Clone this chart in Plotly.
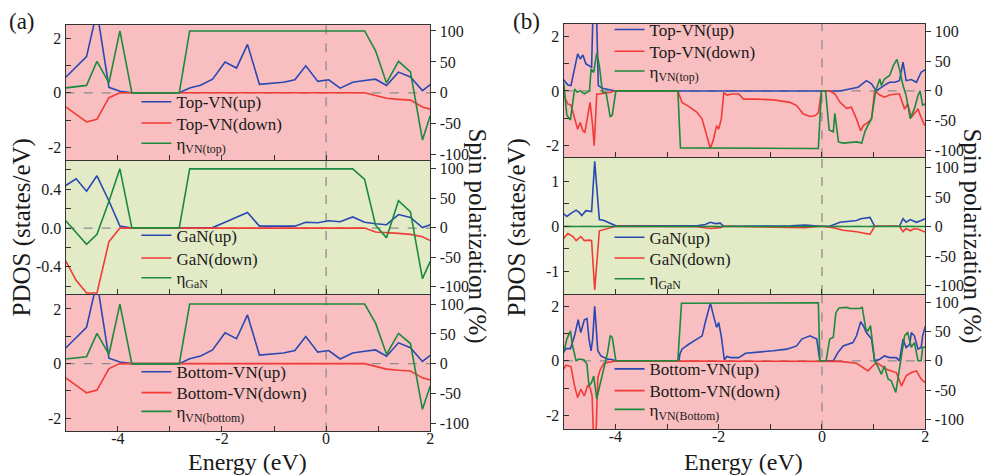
import plotly.graph_objects as go

# ---------------- data ----------------
# panel (a): coarse energy grid (eV)
E_a = [-5.0, -4.8, -4.6, -4.4, -4.17, -3.96, -3.73, -3.5, -3.27, -3.05, -2.82,
       -2.62, -2.41, -2.18, -1.94, -1.72, -1.51, -1.28, -1.05, -0.82, -0.60,
       -0.39, -0.16, 0.05, 0.27, 0.51, 0.74, 0.95, 1.16, 1.39, 1.62, 1.85, 2.0]

a_top_up = [0.57, 0.95, 1.33, 3.0, 0.2, 0.06, 0, 0, 0, 0, 0, 0.18, 0.28, 0.5, 1.13,
            0.91, 1.78, 0.31, 0.35, 0.39, 0.48, 0.99, 0.42, 0.48, 0.17, 0.39, 0.45,
            0.5, 0.27, 0.76, 0.58, 0.08, 0.3]
a_top_dn = [-0.52, -0.8, -1.07, -0.97, -0.18, 0, 0, 0, 0, 0, 0, 0, 0, 0, 0, 0, 0,
            0, 0, 0, 0, 0, 0, 0, 0, 0, 0, -0.1, -0.2, -0.24, -0.27, -0.52, -0.6]
a_top_eta = [8, 10, 12, 51, 16, 100, 0, 0, 0, 0, 0, 100, 100, 100, 100, 100, 100,
             100, 100, 100, 100, 100, 100, 100, 100, 100, 100, 68, 16, 51, 34, -76, -37]

a_gan_up = [0.44, 0.51, 0.38, 0.54, 0.28, 0.02, 0, 0, 0, 0, 0, 0, 0, 0.005, 0.06,
            0.11, 0.16, 0.02, 0.02, 0.02, 0.02, 0.06, 0.055, 0.075, 0.065, 0.115,
            0.06, 0.045, 0.035, 0.14, 0.11, 0.005, 0.035]
a_gan_dn = [-0.34, -0.54, -0.67, -0.67, -0.14, 0, 0, 0, 0, 0, 0, 0, 0, 0, 0, 0, 0,
            0, 0, 0, 0, 0, 0, 0, 0, 0, 0, -0.04, -0.045, -0.055, -0.065, -0.09, -0.13]
a_gan_eta = [12, -8, -28, -11, 45, 100, 0, 0, 0, 0, 0, 100, 100, 100, 100, 100, 100,
             100, 100, 100, 100, 100, 100, 100, 100, 100, 82, 4.5, -17, 46, 27, -86, -57]

# bottom VN of (a) reads identical to top VN
a_bot_up = [0.57, 0.95, 1.33, 3.0, 0.2, 0.06, 0, 0, 0, 0, 0, 0.18, 0.28, 0.5, 1.13,
            0.91, 1.78, 0.31, 0.35, 0.39, 0.48, 0.99, 0.42, 0.48, 0.17, 0.39, 0.45,
            0.5, 0.27, 0.76, 0.58, 0.08, 0.3]
a_bot_dn = [-0.52, -0.8, -1.07, -0.97, -0.18, 0, 0, 0, 0, 0, 0, 0, 0, 0, 0, 0, 0,
            0, 0, 0, 0, 0, 0, 0, 0, 0, 0, -0.1, -0.2, -0.24, -0.27, -0.52, -0.6]
a_bot_eta = [8, 10, 12, 51, 16, 100, 0, 0, 0, 0, 0, 100, 100, 100, 100, 100, 100,
             100, 100, 100, 100, 100, 100, 100, 100, 100, 100, 68, 16, 51, 34, -76, -37]

# panel (b): finer data, own energies per series
b_top_up_E = [-5.0, -4.92, -4.86, -4.79, -4.73, -4.68, -4.63, -4.57, -4.50, -4.46,
              -4.40, -4.33, -4.25, -4.15, -4.0, 0.35, 0.54, 0.70, 0.86, 0.96,
              1.05, 1.15, 1.25, 1.31, 1.41, 1.50, 1.57, 1.63, 1.73, 1.83, 1.92, 2.0]
b_top_up = [0.41, 0.22, 0.20, 0.81, 1.37, 1.18, 1.33, 1.00, 0.94, 0.88,
            5.5, 0.20, 0.10, 0.05, 0.0, 0.0, 0.07, 0.14, 0.38, 0.26,
            0.0, 0.14, 0.26, 0.32, 0.32, 0.38, 1.06, 0.38, 0.42, 0.32, 0.69, 0.79]

b_top_dn_E = [-5.0, -4.92, -4.86, -4.79, -4.73, -4.68, -4.63, -4.59, -4.54, -4.49,
              -4.44, -4.41, -4.36, -4.31, -4.18, -4.09, -4.02, -2.79, -2.71, -2.58,
              -2.42, -2.32, -2.22, -2.16, -2.10, -2.04, -2.00, -1.95, -1.90, -1.84,
              -1.74, -1.61, -1.52, -1.26, -0.94, -0.62, -0.49, -0.36, -0.23, -0.13,
              -0.07, -0.01, 0.15, 0.25, 0.35, 0.48, 0.57, 0.67, 0.75, 0.80,
              0.89, 0.96, 1.02, 1.12, 1.21, 1.31, 1.44, 1.50, 1.60, 1.66,
              1.73, 1.79, 1.86, 1.92, 1.99]
b_top_dn = [-0.15, -0.48, -0.52, -1.04, -1.41, -1.16, -1.47, -1.53, -1.04, -0.42,
            -1.28, -2.02, -0.11, -0.11, -0.07, -0.05, 0.0, 0.0, -0.42, -0.57,
            -0.79, -1.04, -1.72, -2.12, -1.78, -1.28, -1.41, -1.04, -0.07, -0.15,
            -0.11, -0.11, -0.30, -0.30, -0.33, -0.42, -0.54, -0.85, -0.94, -0.91,
            -0.81, 0.0, 0.0, -0.11, -0.42, -0.64, -0.60, -1.04, -1.47, -1.28,
            -1.16, -1.04, 0.0, -0.15, -0.23, -0.15, -0.11, -0.11, -0.67, -0.48,
            -0.98, -0.85, -0.67, -0.98, -1.28]

b_top_eta_E = [-5.0, -4.94, -4.87, -4.79, -4.74, -4.68, -4.60, -4.50, -4.47, -4.42,
               -4.36, -4.31, -4.25, -4.18, -4.10, -4.06, -3.99, -2.79, -2.74, -0.07,
               -0.01, 0.07, 0.14, 0.22, 0.25, 0.32, 0.41, 0.54, 0.67, 0.77,
               0.83, 0.89, 0.96, 1.04, 1.12, 1.15, 1.21, 1.31, 1.38, 1.45,
               1.50, 1.57, 1.63, 1.71, 1.79, 1.86, 1.90, 1.95, 2.0]
b_top_eta = [14, -41, -49, 3, -2, 0, -5, 0, 37, 31,
             64, 42, -2, -3, -44, -41, 0, 0, -96, -97,
             0, 0, -66, -69, -38, -86, -88, -87, -86, -88,
             -69, -58, -47, 0, 20, 9, 20, 26, 42, 53,
             37, 9, -8, -47, -30, -8, 0, -24, -22]

b_gan_up_E = [-5.0, -4.94, -4.86, -4.76, -4.70, -4.65, -4.57, -4.51, -4.46, -4.40,
              -4.31, -4.22, -3.99, -2.42, -2.26, -2.16, -2.06, -1.97, -1.90, -0.60,
              -0.33, -0.01, 0.15, 0.35, 0.54, 0.67, 0.75, 0.93, 1.02, 1.50,
              1.57, 1.63, 1.71, 1.83, 1.92, 2.0]
b_gan_up = [0.28, 0.22, 0.29, 0.36, 0.31, 0.24, 0.35, 0.34, 0.33, 1.45,
            0.15, 0.13, 0.01, 0.01, 0.04, 0.09, 0.06, 0.07, 0.0, 0.01,
            0.03, 0.0, 0.0, 0.09, 0.12, 0.13, 0.17, 0.20, 0.0, 0.0,
            0.17, 0.09, 0.15, 0.09, 0.13, 0.17]

b_gan_dn_E = [-5.0, -4.92, -4.82, -4.76, -4.67, -4.60, -4.51, -4.46, -4.40, -4.31,
              -3.99, -2.42, -2.16, -1.97, -1.90, -0.33, -0.01, 0.22, 0.41, 0.67,
              0.93, 1.02, 1.50, 1.57, 1.63, 1.71, 1.79, 1.88, 2.0]
b_gan_dn = [-0.27, -0.16, -0.23, -0.32, -0.23, -0.32, -0.31, -0.32, -1.42, -0.10,
            0.0, -0.01, -0.05, -0.03, 0.0, -0.03, 0.0, -0.03, -0.09, -0.12,
            -0.18, 0.0, 0.0, -0.12, -0.05, -0.10, -0.05, -0.07, -0.13]

b_gan_eta_E = [-5.0, -4.4, -2.0, 0.0, 1.0, 2.0]
b_gan_eta = [0, 0, 0, 0, 0, 0]

b_bot_up_E = [-5.0, -4.955, -4.87, -4.79, -4.72, -4.67, -4.60, -4.55, -4.51, -4.47,
              -4.44, -4.40, -4.34, -4.28, -4.15, -4.09, -3.99, -2.77, -2.75, -2.71,
              -2.58, -2.42, -2.32, -2.26, -2.16, -2.10, -2.04, -2.00, -1.95, -1.89,
              -1.84, -1.77, -1.61, -1.48, -1.26, -0.94, -0.68, -0.49, -0.39, -0.23,
              -0.10, -0.04, 0.22, 0.31, 0.41, 0.51, 0.60, 0.67, 0.75, 0.80,
              0.86, 0.96, 1.02, 1.12, 1.21, 1.31, 1.44, 1.50, 1.57, 1.63,
              1.70, 1.73, 1.79, 1.86, 1.92, 1.95, 2.0]
b_bot_up = [0.31, 0.45, 0.45, 0.92, 1.51, 1.04, 1.51, 1.56, 0.80, 0.37,
            0.80, 2.00, 0.37, 0.18, 0.06, 0.06, 0.0, 0.0, 0.25, 0.43,
            0.61, 0.80, 0.92, 1.41, 2.12, 1.66, 1.23, 1.41, 0.92, 0.04,
            0.16, 0.12, 0.12, 0.28, 0.31, 0.37, 0.43, 0.55, 0.80, 0.92,
            0.80, 0.0, 0.0, 0.31, 0.55, 0.61, 0.67, 0.92, 1.44, 1.29,
            1.04, 0.80, 0.0, 0.06, 0.18, 0.12, 0.12, 0.0, 0.80, 0.49,
            0.61, 1.04, 0.92, 0.43, 0.49, 0.92, 1.26]

b_bot_dn_E = [-5.0, -4.955, -4.86, -4.79, -4.73, -4.67, -4.60, -4.54, -4.49, -4.45,
              -4.42, -4.38, -4.34, -4.29, -4.22, -4.09, -3.99, 0.35, 0.67, 0.89,
              0.96, 1.05, 1.15, 1.25, 1.34, 1.44, 1.54, 1.63, 1.73, 1.83,
              1.92, 2.0]
b_bot_dn = [-0.30, -0.16, -0.21, -0.92, -1.35, -1.04, -1.29, -0.92, -0.98, -1.29,
            -3.0, -3.0, -0.61, -0.31, -0.09, -0.04, 0.0, -0.02, -0.09, -0.37,
            -0.25, -0.06, -0.18, -0.31, -0.37, -0.43, -0.92, -0.55, -0.43, -0.37,
            -0.67, -0.80]

b_bot_eta_E = [-5.0, -4.94, -4.87, -4.83, -4.76, -4.70, -4.61, -4.55, -4.51, -4.46,
               -4.42, -4.36, -4.31, -4.22, -4.15, -4.10, -4.06, -3.99, -2.79, -2.72,
               -0.07, -0.04, 0.08, 0.15, 0.22, 0.27, 0.33, 0.48, 0.54, 0.73,
               0.78, 0.85, 0.89, 0.94, 1.02, 1.09, 1.15, 1.21, 1.28, 1.34,
               1.43, 1.50, 1.60, 1.66, 1.73, 1.79, 1.86, 1.92, 1.95, 2.0]
b_bot_eta = [14, 37, 51, 26, 0, 3, 2, -6, -43, -37,
             -26, -65, -45, -9, 14, 43, 40, 0, 0, 98,
             99, 0, 0, 37, 40, 82, 90, 91, 89, 89,
             91, 54, 51, 60, 0, -11, -23, -9, -31, -34,
             -54, -14, 43, 48, 23, 31, 0, 0, 23, 23]

x_ticks = [-4, -3, -2, -1, 0, 1, 2]
x_ticktext = ["-4", "", "-2", "", "0", "", "2"]
eta_ticks = [-100, -50, 0, 50, 100]
eta_ticktext = ["-100", "-50", "0", "50", "100"]

# ---------------- styling ----------------
W, H = 991, 475
BLUE = "#2A48B2"
RED = "#F23A36"
GREEN = "#1C8A3C"
PINK = "#F8BEC0"
LIME = "#E2EBC6"
AXC = "#333333"
FONT = "Liberation Serif, Times New Roman, Times, serif"
LEG_OFF = 20  # px from legend top to its item centre

def px(v):
    return v / W

def py(v):
    return 1 - v / H

panels = [
    dict(xd=(66, 432), yd=(23, 160), yl=[-2.48, 2.5], yr=[-109, 110], bg=PINK,
         lt=[-2, -1, 0, 1, 2], ltt=["-2", "", "0", "", "2"], xlab=False, top=True,
         legx=137, rows=(103, 124.5, 145),
         s=[(E_a, a_top_up, "Top-VN(up)", BLUE, False),
            (E_a, a_top_dn, "Top-VN(down)", RED, False),
            (E_a, a_top_eta, "η<sub>VN(top)</sub>", GREEN, True)]),
    dict(xd=(66, 432), yd=(160, 295), yl=[-0.68, 0.70], yr=[-112, 114.5], bg=LIME,
         lt=[-0.6, -0.4, -0.2, 0, 0.2, 0.4, 0.6], ltt=["", "-0.4", "", "0.0", "", "0.4", ""],
         xlab=False, top=False, legx=137, rows=(238, 261, 281),
         s=[(E_a, a_gan_up, "GaN(up)", BLUE, False),
            (E_a, a_gan_dn, "GaN(down)", RED, False),
            (E_a, a_gan_eta, "η<sub>GaN</sub>", GREEN, True)]),
    dict(xd=(66, 432), yd=(295, 434), yl=[-2.48, 2.55], yr=[-113, 117], bg=PINK,
         lt=[-2, -1, 0, 1, 2], ltt=["-2", "", "0", "", "2"], xlab=True, top=False,
         legx=137, rows=(376, 397, 416),
         s=[(E_a, a_bot_up, "Bottom-VN(up)", BLUE, False),
            (E_a, a_bot_dn, "Bottom-VN(down)", RED, False),
            (E_a, a_bot_eta, "η<sub>VN(bottom)</sub>", GREEN, True)]),
    dict(xd=(566, 929), yd=(22, 157), yl=[-2.45, 2.48], yr=[-112, 113], bg=PINK,
         lt=[-2, -1, 0, 1, 2], ltt=["-2", "", "0", "", "2"], xlab=False, top=True,
         legx=612, rows=(30, 52, 72),
         s=[(b_top_up_E, b_top_up, "Top-VN(up)", BLUE, False),
            (b_top_dn_E, b_top_dn, "Top-VN(down)", RED, False),
            (b_top_eta_E, b_top_eta, "η<sub>VN(top)</sub>", GREEN, True)]),
    dict(xd=(566, 929), yd=(157, 295), yl=[-1.51, 1.54], yr=[-114, 117], bg=LIME,
         lt=[-1, -0.5, 0, 0.5, 1], ltt=["-1", "", "0", "", "1"], xlab=False, top=False,
         legx=612, rows=(240, 261, 282),
         s=[(b_gan_up_E, b_gan_up, "GaN(up)", BLUE, False),
            (b_gan_dn_E, b_gan_dn, "GaN(down)", RED, False),
            (b_gan_eta_E, b_gan_eta, "η<sub>GaN</sub>", GREEN, True)]),
    dict(xd=(566, 929), yd=(295, 432), yl=[-2.52, 2.46], yr=[-117, 114], bg=PINK,
         lt=[-2, -1, 0, 1, 2], ltt=["-2", "", "0", "", "2"], xlab=True, top=False,
         legx=612, rows=(373, 395, 414),
         s=[(b_bot_up_E, b_bot_up, "Bottom-VN(up)", BLUE, False),
            (b_bot_dn_E, b_bot_dn, "Bottom-VN(down)", RED, False),
            (b_bot_eta_E, b_bot_eta, "η<sub>VN(Bottom)</sub>", GREEN, True)]),
]

fig = go.Figure()
layout = {}
shapes = []
tickfont = dict(family=FONT, size=16, color="#1a1a1a")
leg_n = 0

for i, p in enumerate(panels, start=1):
    xr = "x" if i == 1 else f"x{i}"
    xk = "xaxis" if i == 1 else f"xaxis{i}"
    nl, nr = 2 * i - 1, 2 * i
    yl = "y" if nl == 1 else f"y{nl}"
    yr = f"y{nr}"
    ylk = "yaxis" if nl == 1 else f"yaxis{nl}"
    yrk = f"yaxis{nr}"

    layout[xk] = dict(domain=[px(p["xd"][0]), px(p["xd"][1])], range=[-5, 2], anchor=yl,
                      showline=True, mirror=p["top"], linecolor=AXC, linewidth=1.4,
                      ticks="inside", ticklen=5, tickwidth=1.3, tickcolor=AXC,
                      tickmode="array", tickvals=x_ticks, ticktext=x_ticktext,
                      showticklabels=p["xlab"], tickfont=tickfont, ticklabelstandoff=-8,
                      showgrid=False, zeroline=False, fixedrange=True)
    layout[ylk] = dict(domain=[py(p["yd"][1]), py(p["yd"][0])], range=p["yl"], anchor=xr,
                       showline=True, linecolor=AXC, linewidth=1.4,
                       ticks="inside", ticklen=5, tickwidth=1.3, tickcolor=AXC,
                       tickmode="array", tickvals=p["lt"], ticktext=p["ltt"],
                       tickfont=tickfont, showgrid=False, zeroline=False)
    layout[yrk] = dict(overlaying=yl, side="right", anchor=xr, range=p["yr"],
                       showline=True, linecolor=AXC, linewidth=1.4,
                       ticks="outside", ticklen=5, tickwidth=1.3, tickcolor=AXC,
                       tickmode="array", tickvals=eta_ticks, ticktext=eta_ticktext,
                       tickfont=tickfont, showgrid=False, zeroline=False)

    # panel background and dashed reference lines
    shapes.append(dict(type="rect", xref=f"{xr} domain", yref=f"{yl} domain",
                       x0=0, x1=1, y0=0, y1=1, fillcolor=p["bg"], line=dict(width=0),
                       layer="below"))
    shapes.append(dict(type="line", xref=f"{xr} domain", yref=yl, x0=0, x1=1, y0=0, y1=0,
                       line=dict(color="#8c8c8c", width=1.3, dash="dash"), layer="below"))
    shapes.append(dict(type="line", xref=xr, yref=f"{yl} domain", x0=0, x1=0, y0=0, y1=1,
                       line=dict(color="#8c8c8c", width=1.3, dash="dash"), layer="below"))

    for (xs, ys, name, col, right), row in zip(p["s"], p["rows"]):
        leg_n += 1
        lg = "legend" if leg_n == 1 else f"legend{leg_n}"
        layout[lg] = dict(x=px(p["legx"]), y=py(row - LEG_OFF), xanchor="left",
                          yanchor="top", bgcolor="rgba(0,0,0,0)", borderwidth=0,
                          font=dict(family=FONT, size=17, color="#1a1a1a"),
                          itemwidth=30)
        fig.add_trace(go.Scatter(x=xs, y=ys, mode="lines", name=name,
                                 line=dict(color=col, width=1.6),
                                 xaxis=xr, yaxis=(yr if right else yl), legend=lg,
                                 cliponaxis=True))

annotations = []
title_font = dict(family=FONT, size=25, color="#1a1a1a")
for cx in (22, 519):
    annotations.append(dict(text="PDOS (states/eV)", x=px(cx), y=py(228), xref="paper",
                            yref="paper", textangle=-90, showarrow=False, font=title_font,
                            xanchor="center", yanchor="middle"))
for cx in (479, 976):
    annotations.append(dict(text="Spin polarization (%)", x=px(cx), y=py(236), xref="paper",
                            yref="paper", textangle=90, showarrow=False, font=title_font,
                            xanchor="center", yanchor="middle"))
for cx in (249, 747):
    annotations.append(dict(text="Energy (eV)", x=px(cx), y=py(465), xref="paper",
                            yref="paper", showarrow=False,
                            font=dict(family=FONT, size=24, color="#1a1a1a"),
                            xanchor="center", yanchor="middle"))
for cx, t in ((22, "(a)"), (529, "(b)")):
    annotations.append(dict(text=t, x=px(cx), y=py(20), xref="paper", yref="paper",
                            showarrow=False, font=dict(family=FONT, size=23, color="#1a1a1a"),
                            xanchor="center", yanchor="middle"))

fig.update_layout(width=W, height=H, margin=dict(l=0, r=0, t=0, b=0),
                  paper_bgcolor="white", plot_bgcolor="rgba(0,0,0,0)",
                  font=dict(family=FONT),
                  shapes=shapes, annotations=annotations, showlegend=True, **layout)

fig.write_html("out.html")
